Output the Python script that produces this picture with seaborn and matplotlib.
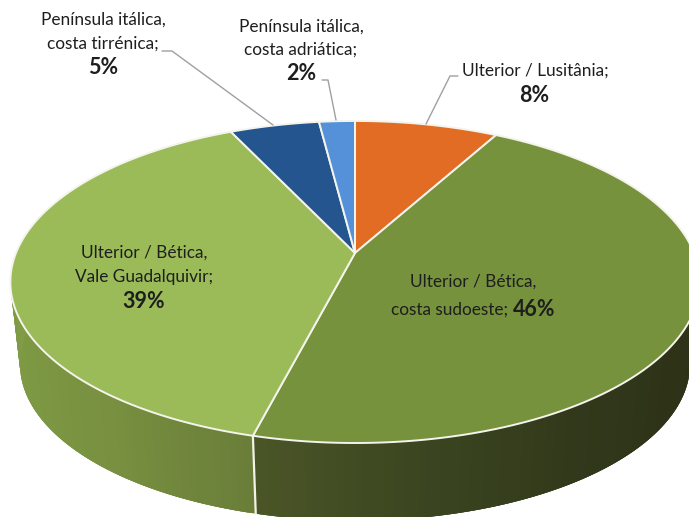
import numpy as np
import matplotlib
matplotlib.use("Agg")
import matplotlib.pyplot as plt
import seaborn as sns

# ==============================
# DATA
# ==============================
shares = [8, 46, 39, 5, 2]
slice_colors = ["#E36C24", "#76923C", "#9BBB59", "#25558F", "#5591D8"]
# side wall colours, in the same clockwise order as the slices
side_ramps = [
    ["#A84F18", "#A84F18"],
    ["#2B3017", "#2B3017", "#2B3017", "#2C3117", "#2E3318", "#32391B", "#3B4520", "#4A5527"],
    ["#6A7E39", "#789040", "#7D9843", "#809C47", "#809C47", "#809C47", "#809C47"],
    ["#1B3E69", "#1B3E69"],
    ["#3E6CA3", "#3E6CA3"],
]

# ==============================
# PIE GEOMETRY (perspective view of a disc)
# ==============================
cx, cy = 355, 253
rx, ry, persp = 339, 155.8, 0.18
bottom_scale, bottom_shift = 0.972, 83


def rim(angle_deg, bottom=False):
    a = np.radians(angle_deg)
    x, y = np.sin(a), np.cos(a)
    d = 1 + persp * y
    u, v = rx * x / d, ry * y / d
    if bottom:
        return cx + bottom_scale * u, cy - bottom_scale * v + bottom_shift
    return cx + u, cy - v


sns.set_theme(style="white")
plt.rcParams["font.family"] = ["Lato", "DejaVu Sans"]

fig, ax = plt.subplots(figsize=(6.89, 5.17), dpi=100)
fig.subplots_adjust(0, 0, 1, 1)
ax.set_xlim(0, 689)
ax.set_ylim(517, 0)
ax.axis("off")

edges = np.cumsum([0] + shares) * 3.6

# ==============================
# SIDE WALL
# ==============================
for i in range(len(shares)):
    start, stop = edges[i], edges[i + 1]
    n = max(int((stop - start) * 2), 2)
    ramp = sns.blend_palette(side_ramps[i], n)
    angles = np.linspace(start, stop, n + 1)
    for j in range(n):
        # each strip runs under the next one so no seams show
        seg = np.linspace(angles[j], min(angles[j + 1] + 1, stop), 4)
        tx, ty = rim(seg)
        bx, by = rim(seg, bottom=True)
        ax.fill(np.r_[tx, bx[::-1]], np.r_[ty, by[::-1]], color=ramp[j], lw=0, zorder=1)

# separator between the two front slices
sx, sy = rim(edges[2])
ex, ey = rim(edges[2], bottom=True)
ax.plot([sx, ex], [sy, ey], color="#F2F2E8", lw=1.6, zorder=2)

# ==============================
# TOP FACE
# ==============================
for i in range(len(shares)):
    seg = np.linspace(edges[i], edges[i + 1], 200)
    tx, ty = rim(seg)
    ax.fill(np.r_[cx, tx], np.r_[cy, ty], facecolor=slice_colors[i], edgecolor="#F4F4EC",
            lw=1.4, joinstyle="round", zorder=3)

# ==============================
# LABELS
# ==============================
text_color = "#1E1E1E"
leader_color = "#A0A0A0"
regular = dict(fontsize=12.4, color=text_color, ha="center", va="center", zorder=5)
bold = dict(fontsize=15.5, color=text_color, fontweight="bold", ha="center", va="center", zorder=5)

ax.text(103, 20, "Península itálica,", **regular)
ax.text(103, 44, "costa tirrénica;", **regular)
ax.text(103, 68, "5%", **bold)

ax.text(301, 27, "Península itálica,", **regular)
ax.text(301, 50, "costa adriática;", **regular)
ax.text(301, 74, "2%", **bold)

ax.text(535, 71, "Ulterior / Lusitânia;", **regular)
ax.text(534, 96, "8%", **bold)

ax.text(144, 253, "Ulterior / Bética,", **regular)
ax.text(144, 277, "Vale Guadalquivir;", **regular)
ax.text(144, 302, "39%", **bold)

ax.text(473, 282, "Ulterior / Bética,", **regular)
ax.text(508, 310, "costa sudoeste;", **{**regular, "ha": "right"})
ax.text(513, 309, "46%", **{**bold, "ha": "left"})

ax.plot([162, 172, 273], [51, 51, 125], color=leader_color, lw=1, zorder=4)
ax.plot([322, 328, 336], [80, 80, 120], color=leader_color, lw=1, zorder=4)
ax.plot([458, 450, 426], [76, 76, 124], color=leader_color, lw=1, zorder=4)

fig.savefig("out.png", dpi=100, facecolor="white")
